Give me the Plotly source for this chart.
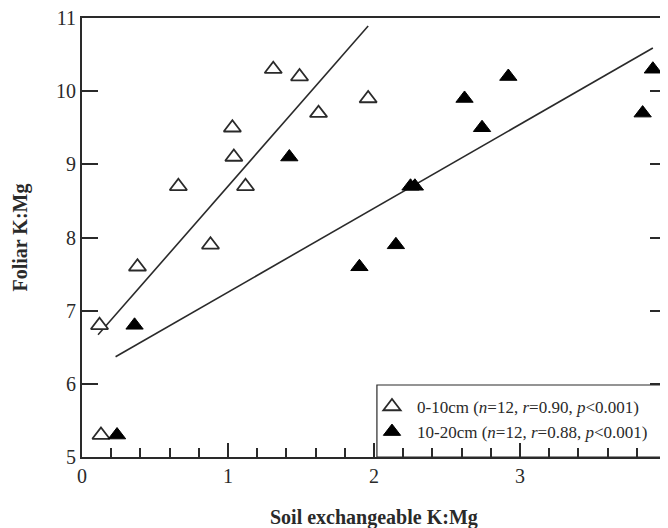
import plotly.graph_objects as go

# ---- data ----
x_0_10 = [0.12, 0.13, 0.38, 0.66, 0.88, 1.03, 1.04, 1.12, 1.31, 1.49, 1.62, 1.96]
y_0_10 = [6.8, 5.3, 7.6, 8.7, 7.9, 9.5, 9.1, 8.7, 10.3, 10.2, 9.7, 9.9]

x_10_20 = [0.24, 0.36, 1.42, 1.90, 2.15, 2.25, 2.28, 2.62, 2.74, 2.92, 3.84, 3.91]
y_10_20 = [5.3, 6.8, 9.1, 7.6, 7.9, 8.7, 8.7, 9.9, 9.5, 10.2, 9.7, 10.3]

# regression fits: slope, intercept, x-range
fit_0_10 = {"slope": 2.281, "intercept": 6.419, "xr": [0.11, 1.96]}
fit_10_20 = {"slope": 1.147, "intercept": 6.106, "xr": [0.23, 3.91]}

label_0_10 = "0-10cm (<i>n</i>=12, <i>r</i>=0.90, <i>p</i>&lt;0.001)"
label_10_20 = "10-20cm (<i>n</i>=12, <i>r</i>=0.88, <i>p</i>&lt;0.001)"

x_ticks = [0, 1, 2, 3, 4]
y_ticks = [5, 6, 7, 8, 9, 10, 11]

INK = "#2a2a2a"
FONT = "Liberation Serif, Times New Roman, serif"

fig = go.Figure()

for fit in (fit_0_10, fit_10_20):
    xs = fit["xr"]
    ys = [fit["slope"] * v + fit["intercept"] for v in xs]
    fig.add_trace(go.Scatter(x=xs, y=ys, mode="lines", showlegend=False,
                             line=dict(color=INK, width=1.6), hoverinfo="skip"))

fig.add_trace(go.Scatter(
    x=x_0_10, y=y_0_10, mode="markers", name=label_0_10,
    marker=dict(symbol="triangle-up", size=15, color="white",
                line=dict(color=INK, width=1.8))))
fig.add_trace(go.Scatter(
    x=x_10_20, y=y_10_20, mode="markers", name=label_10_20,
    marker=dict(symbol="triangle-up", size=15, color="black",
                line=dict(color="black", width=1))))

# page body has an 8px default margin, so the figure is 8px smaller
fig.update_layout(
    width=660, height=520,
    margin=dict(l=74, r=2, t=10, b=71, autoexpand=False),
    paper_bgcolor="white", plot_bgcolor="white",
    font=dict(family=FONT, color=INK, size=20),
    showlegend=True,
    legend=dict(x=0.488, y=0.155, xanchor="left", yanchor="top",
                bgcolor="rgba(0,0,0,0)", borderwidth=0,
                font=dict(family=FONT, size=17, color=INK),
                itemwidth=40, tracegroupgap=0),
    shapes=[dict(type="rect", xref="paper", yref="paper",
                 x0=0.505, x1=1.02, y0=0, y1=0.164,
                 line=dict(color=INK, width=1.2), fillcolor="rgba(0,0,0,0)",
                 layer="above")],
    annotations=[
        dict(text="<b>Soil exchangeable K:Mg</b>", xref="paper", yref="paper",
             x=0.5, y=0, yshift=-60, xanchor="center", yanchor="middle",
             showarrow=False, font=dict(family=FONT, size=20, color=INK)),
        dict(text="<b>Foliar K:Mg</b>", xref="paper", yref="paper",
             x=0, y=0.5, xshift=-62, xanchor="center", yanchor="middle",
             textangle=-90, showarrow=False,
             font=dict(family=FONT, size=20, color=INK)),
    ],
)

fig.update_xaxes(range=[0, 4], tickvals=x_ticks, ticks="inside", ticklen=14,
                 tickwidth=1.5, tickcolor=INK, showline=True, linecolor=INK,
                 linewidth=2, mirror=True, showgrid=False, zeroline=False,
                 automargin=False, ticklabeloverflow="allow",
                 minor=dict(dtick=0.2, ticks="inside", ticklen=9, tickwidth=1.5,
                            tickcolor=INK, showgrid=False),
                 tickfont=dict(family=FONT, size=20, color=INK))
fig.update_yaxes(range=[5, 11], tickvals=y_ticks, ticks="inside", ticklen=16,
                 tickwidth=1.5, tickcolor=INK, showline=True, linecolor=INK,
                 linewidth=2, mirror="ticks", showgrid=False, zeroline=False,
                 automargin=False, ticklabeloverflow="allow",
                 tickfont=dict(family=FONT, size=20, color=INK))

fig.write_html("out.html")
